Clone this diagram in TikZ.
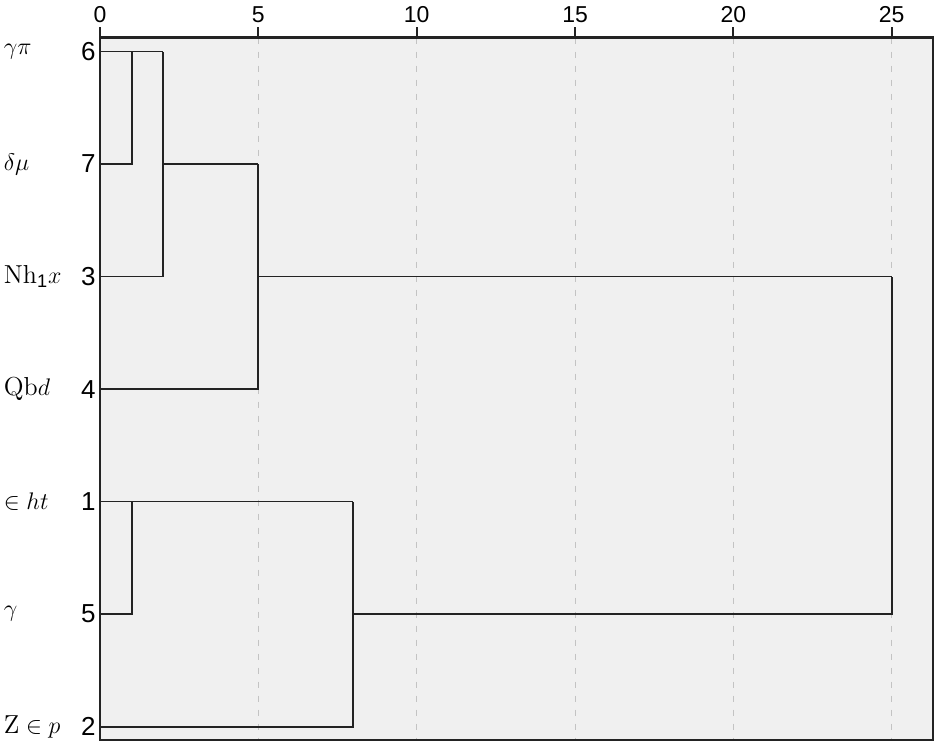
\documentclass[tikz,border=0pt]{standalone}
\usepackage{fontspec}
\setsansfont{Liberation Sans}
\usetikzlibrary{positioning}
\definecolor{panelcolor}{RGB}{240, 240, 240}
\definecolor{gridcolor}{RGB}{195, 195, 195}
\definecolor{linkcolor}{RGB}{35, 35, 35}

\begin{document}
\begin{tikzpicture}[
    x=15.833pt,
    y=-56.25pt,
    panel/.style={
        fill=panelcolor,
        draw=linkcolor,
        line width=1.1pt
    },
    gridline/.style={
        draw=gridcolor,
        dash pattern=on 3pt off 4pt,
        line width=0.5pt
    },
    tickmark/.style={
        draw=linkcolor,
        line width=0.9pt
    },
    ticklabel/.style={
        font=\sffamily\fontsize{11.5}{13}\selectfont,
        inner sep=0pt
    },
    rownum/.style={
        font=\sffamily\fontsize{13}{15}\selectfont,
        anchor=east,
        inner sep=0pt
    },
    rowname/.style={
        font=\fontsize{13}{15}\selectfont,
        anchor=west,
        inner sep=0pt
    },
    link/.style={
        draw=linkcolor,
        line width=0.9pt
    }
]

\useasboundingbox (-3.158, -0.458) rectangle (26.745, 6.191);

% Plot panel
\coordinate (boxtl) at (0, -0.124);
\coordinate (boxbr) at (26.305, 6.116);
\path[panel] (boxtl) rectangle (boxbr);

% ==================== AXIS ====================
\foreach \v in {5, 10, 15, 20, 25}
    \draw[gridline] (\v, -0.124) -- (\v, 6.116);
\foreach \v in {0, 5, 10, 15, 20, 25} {
    \draw[tickmark] (\v, -0.124) -- (\v, -0.218);
    \node[ticklabel] (tick\v) at (\v, -0.33) {\v};
}

% ==================== ROWS ====================
\foreach \r/\n/\t in {0/6/{$\gamma\pi$}, 1/7/{$\delta\mu$}, 2/3/{$\mathrm{Nh}_{\mathsf{1}}x$},
                      3/4/{$\mathrm{Qb}d$}, 4/1/{$\in ht$}, 5/5/{$\gamma$}, 6/2/{$\mathrm{Z}\in p$}} {
    \coordinate (l\n) at (0, \r);
    \node[rownum] (num\n) at (-0.13, \r) {\n};
    \node[rowname] (name\n) at (-3.05, \r) {\t};
}

% ==================== JOINS ====================
\coordinate (j67) at (1, 0);
\coordinate (j673) at (2, 0);
\coordinate (s673) at (2, 1);
\coordinate (j6734) at (5, 1);
\coordinate (s6734) at (5, 2);
\coordinate (j15) at (1, 4);
\coordinate (j152) at (8, 4);
\coordinate (s152) at (8, 5);
\coordinate (jall) at (25, 2);

% ==================== LINKS ====================
\draw[link] (l6) -- (j673);
\draw[link] (l7) -| (j67);
\draw[link] (l3) -| (j673);
\draw[link] (s673) -- (j6734);
\draw[link] (l4) -| (j6734);
\draw[link] (s6734) -- (jall);

\draw[link] (l1) -- (j152);
\draw[link] (l5) -| (j15);
\draw[link] (l2) -| (j152);
\draw[link] (s152) -| (jall);

% Panel border on top
\draw[panel, fill=none] (boxtl) rectangle (boxbr);

\end{tikzpicture}
\end{document}
